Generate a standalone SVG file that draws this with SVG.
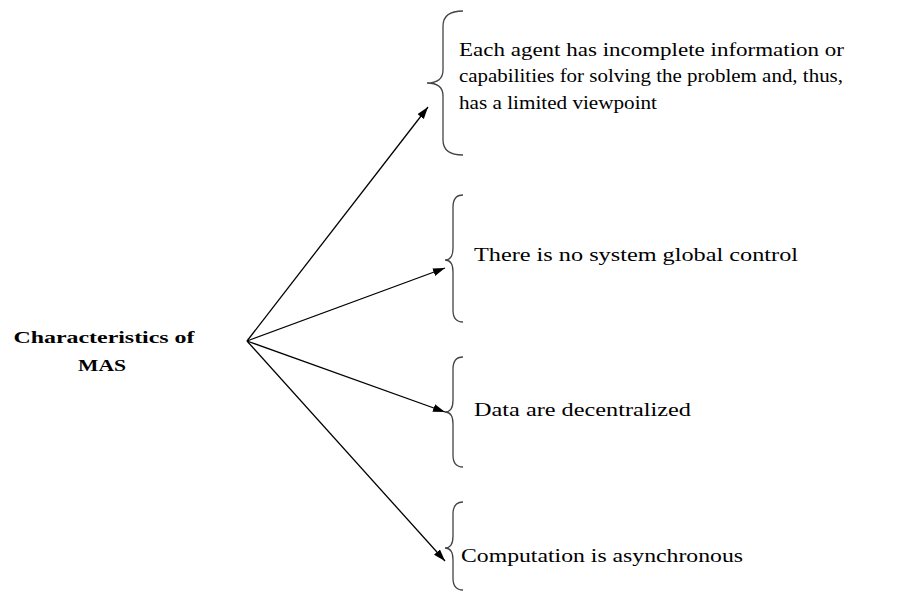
<svg xmlns="http://www.w3.org/2000/svg" width="905" height="592" viewBox="0 0 905 592">
  <defs>
    <marker id="arrow" viewBox="0 0 12 8" refX="12" refY="4" markerWidth="12" markerHeight="8" markerUnits="userSpaceOnUse" orient="auto">
      <path d="M0,0 L12,4 L0,8 z" fill="#000"/>
    </marker>
    <style>
      .label { font-family: "Liberation Serif", "Times New Roman", serif; font-size: 18px; fill: #000; }
      .title { font-family: "Liberation Serif", "Times New Roman", serif; font-size: 17px; font-weight: bold; fill: #000; }
      .brace { fill: none; stroke: #444; stroke-width: 1.3; }
      .conn { stroke: #000; stroke-width: 1.3; fill: none; marker-end: url(#arrow); }
    </style>
  </defs>
  <rect width="905" height="592" fill="#fff"/>

  <g id="root">
    <text class="title" x="104" y="343" text-anchor="middle" textLength="181" lengthAdjust="spacingAndGlyphs">Characteristics of</text>
    <text class="title" x="102" y="371" text-anchor="middle" textLength="48" lengthAdjust="spacingAndGlyphs">MAS</text>
  </g>

  <g id="connectors">
    <line class="conn" x1="247" y1="341" x2="428" y2="107"/>
    <line class="conn" x1="247" y1="341" x2="445" y2="268"/>
    <line class="conn" x1="247" y1="341" x2="445" y2="412"/>
    <line class="conn" x1="247" y1="341" x2="445" y2="561"/>
  </g>

  <g id="item1">
    <path class="brace" d="M463,11 Q443,11 443,26 L443,70 Q443,83 427,83 Q443,83 443,96 L443,140 Q443,155 463,155"/>
    <text class="label" x="459" y="56" textLength="385" lengthAdjust="spacingAndGlyphs">Each agent has incomplete information or</text>
    <text class="label" x="459" y="82" textLength="384" lengthAdjust="spacingAndGlyphs">capabilities for solving the problem and, thus,</text>
    <text class="label" x="459" y="109" textLength="198" lengthAdjust="spacingAndGlyphs">has a limited viewpoint</text>
  </g>

  <g id="item2">
    <path class="brace" d="M463,195 Q453,195 453,207 L453,248 Q453,260 445,260 Q453,260 453,272 L453,310 Q453,322 463,322"/>
    <text class="label" x="474" y="261" textLength="324" lengthAdjust="spacingAndGlyphs">There is no system global control</text>
  </g>

  <g id="item3">
    <path class="brace" d="M463,357 Q453,357 453,369 L453,400 Q453,412 445,412 Q453,412 453,424 L453,455 Q453,467 463,467"/>
    <text class="label" x="474" y="416" textLength="217" lengthAdjust="spacingAndGlyphs">Data are decentralized</text>
  </g>

  <g id="item4">
    <path class="brace" d="M463,502 Q453,502 453,514 L453,536 Q453,548 445,548 Q453,548 453,560 L453,578 Q453,590 463,590"/>
    <text class="label" x="461" y="562" textLength="282" lengthAdjust="spacingAndGlyphs">Computation is asynchronous</text>
  </g>
</svg>
